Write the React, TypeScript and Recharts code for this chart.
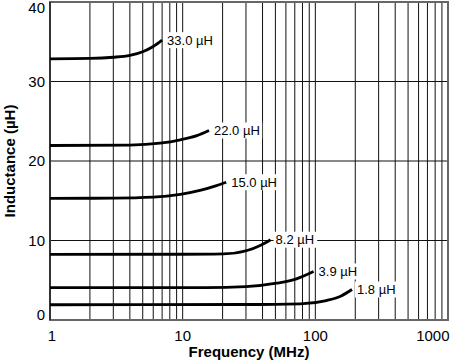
import React from 'react';
import { LineChart, Line, XAxis, YAxis, CartesianGrid, ReferenceArea } from 'recharts';

const gridFreqs = [1, 2, 3, 4, 5, 6, 7, 8, 9, 10, 20, 30, 40, 50, 60, 70, 80, 90, 100, 200, 300, 400, 500, 600, 700, 800, 900, 1000];
const xLabelTicks = [1, 10, 100, 1000];
const yTicks = [0, 10, 20, 30, 40];

const freq33 = [1, 2, 3, 4, 5, 6, 7];
const ind33 = [32.85, 32.9, 33.05, 33.3, 33.75, 34.4, 35.2];
const freq22 = [1, 4, 6.75, 9.6, 12.8, 15.8];
const ind22 = [21.95, 22.0, 22.24, 22.67, 23.2, 23.84];
const freq15 = [1, 3, 6, 9.6, 13.5, 18, 21.3];
const ind15 = [15.3, 15.33, 15.45, 15.8, 16.3, 16.9, 17.33];
const freq82 = [1, 10, 20.3, 30.6, 38.4, 46];
const ind82 = [8.25, 8.27, 8.32, 8.74, 9.37, 10.1];
const freq39 = [1, 15, 30, 51, 72, 97];
const ind39 = [4.08, 4.08, 4.2, 4.63, 5.18, 6.1];
const freq18 = [1, 30, 77, 121, 155, 189];
const ind18 = [1.92, 1.95, 2.04, 2.45, 3.0, 3.84];

const seriesLabels = ['33.0 µH', '22.0 µH', '15.0 µH', '8.2 µH', '3.9 µH', '1.8 µH'];
const seriesFreqs = [freq33, freq22, freq15, freq82, freq39, freq18];
const seriesInds = [ind33, ind22, ind15, ind82, ind39, ind18];

const FONT = '"Liberation Sans", Arial, Helvetica, sans-serif';

const series = seriesLabels.map((name, i) => ({
  name,
  data: seriesFreqs[i].map((f, j) => ({ f, v: seriesInds[i][j] })),
}));

const makeLabel = (text: string, last: number) => (props: any) => {
  const { x, y, index } = props;
  if (index !== last) return null;
  const w = text.length * 6.6;
  return (
    <g>
      <rect x={x + 3} y={y - 8} width={w + 4} height={16} fill="#fff" />
      <text x={x + 5} y={y} dy="0.355em" fontSize={13} fontFamily={FONT} fill="#000">
        {text}
      </text>
    </g>
  );
};

const XTick = (props: any) => {
  const { x, y, payload } = props;
  const v = payload.value;
  if (!xLabelTicks.includes(v)) return null;
  let anchor: 'start' | 'middle' | 'end' = 'middle';
  let tx = x;
  if (v === 1) tx = x + 2;
  if (v === 1000) {
    anchor = 'end';
    tx = x + 1.5;
  }
  return (
    <text x={tx} y={y + 21} textAnchor={anchor} fontSize={15} fontFamily={FONT} fill="#000">
      {v}
    </text>
  );
};

const YTick = (props: any) => {
  const { x, y, payload } = props;
  const ty = Math.min(Math.max(y, 8), 315);
  return (
    <text x={x} y={ty} dy="0.355em" textAnchor="end" fontSize={15} fontFamily={FONT} fill="#000">
      {payload.value}
    </text>
  );
};

export default function App() {
  return (
    <div style={{ position: 'absolute', left: 0, top: 0, width: 450, height: 363, background: '#fff' }}>
      <LineChart width={450} height={363} margin={{ top: 2, right: 2, bottom: 0, left: 0 }}>
        <CartesianGrid stroke="#111" strokeWidth={1} />
        <ReferenceArea x1={1} x2={1000} y1={0} y2={40} fill="none" stroke="#666" strokeWidth={2} />
        <XAxis
          dataKey="f"
          type="number"
          scale="log"
          domain={[1, 1000]}
          ticks={gridFreqs}
          interval={0}
          allowDataOverflow
          tickLine={false}
          tickSize={0}
          tickMargin={0}
          height={43}
          axisLine={{ stroke: '#666', strokeWidth: 2 }}
          tick={<XTick />}
          label={{
            value: 'Frequency (MHz)',
            position: 'insideBottom',
            offset: 6,
            style: { fontSize: 15, fontWeight: 'bold', fontFamily: FONT, fill: '#000' },
          }}
        />
        <YAxis
          type="number"
          domain={[0, 40]}
          ticks={yTicks}
          interval={0}
          width={50}
          tickLine={false}
          tickSize={3}
          tickMargin={2}
          axisLine={{ stroke: '#000', strokeWidth: 1 }}
          tick={<YTick />}
          label={(p: any) => {
            const vb = p.viewBox || { x: 0, y: 2, width: 50, height: 318 };
            const cx = 10;
            const cy = vb.y + vb.height / 2;
            return (
              <text
                x={cx}
                y={cy}
                transform={`rotate(-90, ${cx}, ${cy})`}
                textAnchor="middle"
                dy="0.355em"
                fontSize={15}
                fontWeight="bold"
                fontFamily={FONT}
                fill="#000"
              >
                Inductance (µH)
              </text>
            );
          }}
        />
        {series.map((s) => (
          <Line
            key={s.name}
            data={s.data}
            dataKey="v"
            type="monotone"
            stroke="#000"
            strokeWidth={2.8}
            dot={false}
            isAnimationActive={false}
            label={makeLabel(s.name, s.data.length - 1)}
          />
        ))}
      </LineChart>
    </div>
  );
}
